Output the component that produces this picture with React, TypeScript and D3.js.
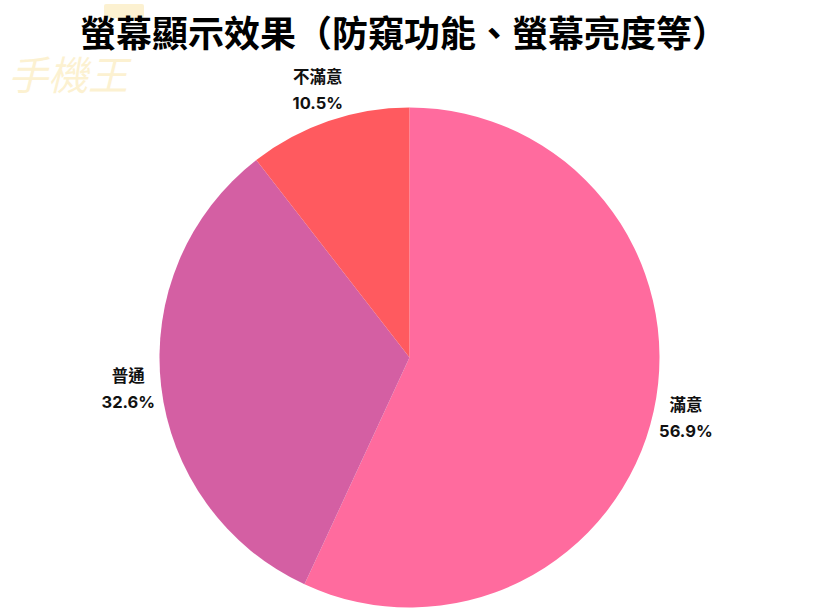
import React from 'react';
import * as d3 from 'd3';

const categories = ['滿意', '普通', '不滿意'];
const values = [56.9, 32.6, 10.5];
const colors = ['#ff6b9e', '#d45fa3', '#ff5a5f'];
const title = '螢幕顯示效果（防窺功能、螢幕亮度等）';

const W = 820;
const H = 615;

const App: React.FC = () => {
  const cx = 409.5;
  const cy = 357.5;
  const radius = 250;
  const labelR = 283;

  const data = categories.map((c, i) => ({ name: c, value: values[i], color: colors[i] }));
  const pie = d3.pie<any>().value(d => d.value).sort(null);
  const arcs = pie(data);
  const arcGen = d3.arc<any>().innerRadius(0).outerRadius(radius);
  const labelArc = d3.arc<any>().innerRadius(labelR).outerRadius(labelR);

  const font = 'Inter, "Noto Sans CJK TC", sans-serif';

  return (
    <svg width={W} height={H} style={{ position: 'absolute', left: 0, top: 0, background: '#fff' }}>
      {/* faint watermark logo, top-left */}
      <g opacity={0.3}>
        <rect x={104} y={4} width={40} height={14} rx={2} fill="#f6d46a" />
        <text x={8} y={90} fontSize={40} fill="#f6d46a" fontFamily='"Noto Sans CJK TC", sans-serif' fontStyle="italic">手機王</text>
      </g>

      <text
        x={404}
        y={47}
        textAnchor="middle"
        fontSize={36}
        fontWeight={700}
        fontFamily='"Noto Sans CJK TC", sans-serif'
        fill="#000"
      >
        {title}
      </text>

      <g transform={`translate(${cx},${cy})`}>
        {arcs.map((a, i) => (
          <path key={i} d={arcGen(a) || ''} fill={a.data.color} />
        ))}
        {arcs.map((a, i) => {
          const [lx, ly] = labelArc.centroid(a);
          return (
            <g key={'l' + i} transform={`translate(${lx},${ly})`} fontFamily={font} fontWeight={700} fontSize={16.5} fill="#111">
              <text textAnchor="middle" y={-7}>{a.data.name}</text>
              <text textAnchor="middle" y={19}>{a.data.value.toFixed(1)}%</text>
            </g>
          );
        })}
      </g>
    </svg>
  );
};

export default App;
